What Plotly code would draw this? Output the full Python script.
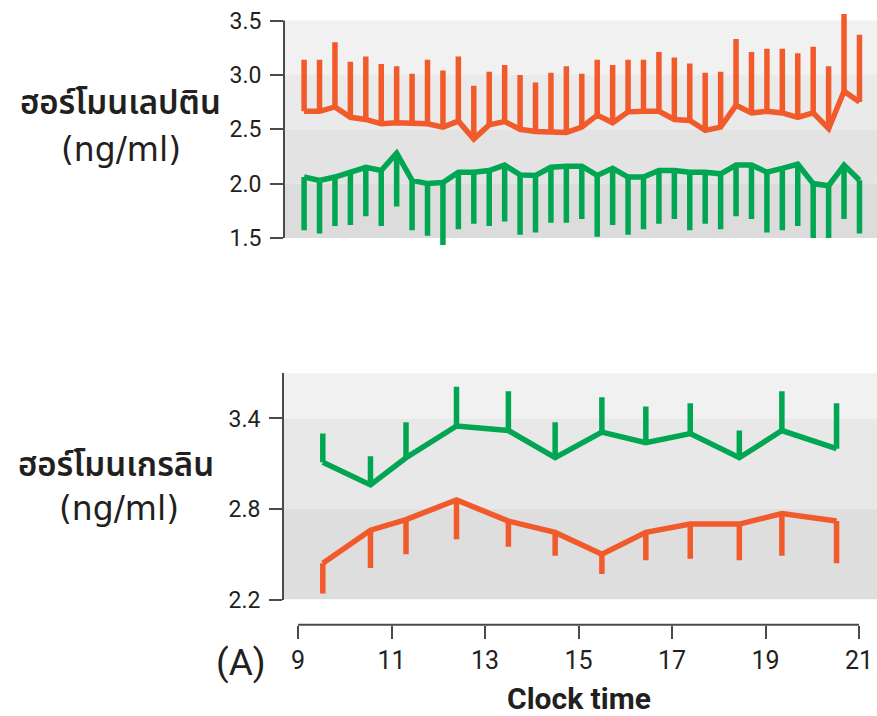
import plotly.graph_objects as go

# ---------------- data ----------------
leptin_time = [9.13, 9.46, 9.79, 10.12, 10.45, 10.78, 11.11, 11.44, 11.77, 12.10,
               12.43, 12.76, 13.09, 13.42, 13.75, 14.08, 14.41, 14.74, 15.07, 15.40,
               15.73, 16.06, 16.39, 16.72, 17.05, 17.38, 17.71, 18.04, 18.37, 18.70,
               19.03, 19.36, 19.69, 20.02, 20.35, 20.68, 21.01]
leptin_orange = [2.665, 2.665, 2.705, 2.61, 2.59, 2.55, 2.56, 2.55, 2.55, 2.52,
                 2.575, 2.41, 2.54, 2.57, 2.50, 2.48, 2.48, 2.47, 2.52, 2.63,
                 2.56, 2.66, 2.665, 2.665, 2.59, 2.58, 2.49, 2.52, 2.72, 2.65,
                 2.665, 2.65, 2.61, 2.65, 2.505, 2.85, 2.75]
leptin_orange_top = [3.14, 3.14, 3.30, 3.12, 3.17, 3.10, 3.08, 3.01, 3.14, 3.04,
                     3.17, 2.90, 3.03, 3.09, 3.00, 2.93, 3.02, 3.08, 3.01, 3.14,
                     3.09, 3.14, 3.14, 3.21, 3.16, 3.105, 3.02, 3.03, 3.33, 3.21,
                     3.24, 3.24, 3.20, 3.26, 3.08, 3.56, 3.37]
leptin_green = [2.06, 2.03, 2.06, 2.105, 2.15, 2.12, 2.28, 2.03, 2.00, 2.01,
                2.105, 2.105, 2.12, 2.17, 2.08, 2.075, 2.15, 2.16, 2.16, 2.075,
                2.14, 2.06, 2.06, 2.12, 2.12, 2.105, 2.105, 2.09, 2.17, 2.17,
                2.105, 2.14, 2.18, 2.00, 1.98, 2.17, 2.03]
leptin_green_bottom = [1.57, 1.54, 1.61, 1.62, 1.70, 1.61, 1.79, 1.57, 1.52, 1.435,
                       1.58, 1.63, 1.61, 1.65, 1.53, 1.55, 1.64, 1.64, 1.675, 1.51,
                       1.62, 1.53, 1.58, 1.63, 1.675, 1.57, 1.63, 1.58, 1.70, 1.675,
                       1.55, 1.57, 1.61, 1.50, 1.50, 1.675, 1.54]

ghrelin_time = [9.53, 10.55, 11.31, 12.39, 13.50, 14.50, 15.50, 16.44, 17.39, 18.44, 19.35, 20.52]
ghrelin_green = [3.11, 2.96, 3.14, 3.35, 3.32, 3.14, 3.31, 3.24, 3.30, 3.14, 3.32, 3.20]
ghrelin_green_top = [3.30, 3.15, 3.375, 3.61, 3.58, 3.375, 3.54, 3.48, 3.50, 3.32, 3.58, 3.50]
ghrelin_orange = [2.44, 2.66, 2.73, 2.86, 2.72, 2.645, 2.50, 2.645, 2.70, 2.70, 2.77, 2.72]
ghrelin_orange_bottom = [2.24, 2.41, 2.50, 2.60, 2.55, 2.49, 2.37, 2.46, 2.47, 2.46, 2.49, 2.44]

x_ticks = [9, 11, 13, 15, 17, 19, 21]
leptin_ticks = [1.5, 2.0, 2.5, 3.0, 3.5]
ghrelin_ticks = [2.2, 2.8, 3.4]

leptin_title = ["ฮอร์โมนเลปติน", "(ng/ml)"]
ghrelin_title = ["ฮอร์โมนเกรลิน", "(ng/ml)"]
panel_label = "(A)"
x_title = "Clock time"

# ---------------- style ----------------
ORANGE = "#F15A2B"
GREEN = "#00A651"
AXIS = "#4a4a4a"
TEXT = "#231f20"
W = 877
REF_H = 716          # reference picture height (positions below are read in it)
H = 732              # page height that ends up photographed into 716 px
LW = 5.5
FONT = "Roboto, 'Noto Sans', sans-serif"
UNIT_FONT = "'DejaVu Sans', 'Open Sans', sans-serif"
THAI_FONT = "'Noto Sans Thai', 'Noto Sans Thai UI', 'Noto Sans', Roboto, sans-serif"


def py(p):
    return 1 - p / REF_H


x_dom = [284 / W, 1.0]
x_range = [8.70, 21.385]
top_dom = [py(248.1), py(7.5)]
top_range = [1.40, 3.62]
bot_dom = [py(597.9), py(372.15)]
bot_range = [2.2, 3.7]
xaxis_pos = py(623)


def up(vals, tops):
    return [t - v for v, t in zip(vals, tops)]


def down(vals, bots):
    return [v - b for v, b in zip(vals, bots)]


fig = go.Figure()


def add_series(x, y, color, plus=None, minus=None, xa="x", ya="y"):
    n = len(x)
    err = dict(type="data", symmetric=False,
               array=plus if plus is not None else [0] * n,
               arrayminus=minus if minus is not None else [0] * n,
               color=color, thickness=LW, width=0, visible=True)
    fig.add_trace(go.Scatter(x=x, y=y, mode="lines", line=dict(color=color, width=LW),
                             error_y=err, xaxis=xa, yaxis=ya, showlegend=False,
                             hoverinfo="skip"))


add_series(leptin_time, leptin_orange, ORANGE, plus=up(leptin_orange, leptin_orange_top))
add_series(leptin_time, leptin_green, GREEN, minus=down(leptin_green, leptin_green_bottom))
add_series(ghrelin_time, ghrelin_green, GREEN, plus=up(ghrelin_green, ghrelin_green_top), xa="x2", ya="y2")
add_series(ghrelin_time, ghrelin_orange, ORANGE, minus=down(ghrelin_orange, ghrelin_orange_bottom), xa="x2", ya="y2")

shapes = []
top_bands = [(3.0, 3.5, "#f1f1f1"), (2.5, 3.0, "#eaeaea"), (2.0, 2.5, "#e3e3e3"), (1.5, 2.0, "#dcdcdc")]
bot_bands = [(3.4, 3.7, "#f1f1f1"), (2.8, 3.4, "#e8e8e8"), (2.2, 2.8, "#dedede")]
for y0, y1, c in top_bands:
    shapes.append(dict(type="rect", xref="x domain", x0=0, x1=1, yref="y", y0=y0, y1=y1,
                       fillcolor=c, line=dict(width=0), layer="below"))
for y0, y1, c in bot_bands:
    shapes.append(dict(type="rect", xref="x2 domain", x0=0, x1=1, yref="y2", y0=y0, y1=y1,
                       fillcolor=c, line=dict(width=0), layer="below"))
# top y axis line (only over the labelled span)
shapes.append(dict(type="line", xref="x domain", x0=0, x1=0, yref="y",
                   y0=leptin_ticks[0], y1=leptin_ticks[-1], line=dict(color=AXIS, width=2)))
# bottom x axis line from first to last tick
shapes.append(dict(type="line", xref="x2", x0=x_ticks[0], x1=x_ticks[-1], yref="paper",
                   y0=xaxis_pos, y1=xaxis_pos, line=dict(color=AXIS, width=2)))

annotations = []


def ann(text, x, y, size, family=FONT, weight=400):
    annotations.append(dict(text=text,
                            x=x / W, y=py(y), xref="paper", yref="paper",
                            xanchor="center", yanchor="middle", showarrow=False,
                            font=dict(size=size, family=family, color=TEXT, weight=weight)))


ann(leptin_title[0], 121, 104, 33, THAI_FONT, 600)
ann(leptin_title[1], 121, 149, 33, UNIT_FONT, 500)
ann(ghrelin_title[0], 116, 465, 33, THAI_FONT, 600)
ann(ghrelin_title[1], 119, 507, 33, UNIT_FONT, 500)
ann(panel_label, 241, 661, 37)
ann(x_title, 579, 697, 30, FONT, 700)

fig.update_layout(
    width=W, height=H, margin=dict(l=0, r=0, t=0, b=0),
    paper_bgcolor="white", plot_bgcolor="white",
    shapes=shapes, annotations=annotations,
    font=dict(family=FONT, color=TEXT),
    xaxis=dict(domain=x_dom, range=x_range, visible=False, anchor="y"),
    yaxis=dict(domain=top_dom, range=top_range, anchor="x",
               tickvals=leptin_ticks, ticktext=["%.1f" % v for v in leptin_ticks],
               ticks="outside", ticklen=13, tickwidth=2, tickcolor=AXIS,
               showline=False, showgrid=False, zeroline=False,
               tickfont=dict(size=23, color=TEXT), ticklabelstandoff=4),
    xaxis2=dict(domain=x_dom, range=x_range, anchor="free", position=xaxis_pos,
                tickvals=x_ticks, ticktext=[str(v) for v in x_ticks],
                ticks="outside", ticklen=13, tickwidth=2, tickcolor=AXIS,
                showline=False, showgrid=False, zeroline=False,
                tickfont=dict(size=25, color=TEXT)),
    yaxis2=dict(domain=bot_dom, range=bot_range, anchor="x2",
                tickvals=ghrelin_ticks, ticktext=["%.1f" % v for v in ghrelin_ticks],
                ticks="outside", ticklen=13, tickwidth=2, tickcolor=AXIS,
                showline=True, linecolor=AXIS, linewidth=2,
                showgrid=False, zeroline=False,
                tickfont=dict(size=23, color=TEXT), ticklabelstandoff=4),
)

fig.write_html("out.html", config={"displayModeBar": False},
               post_script="document.body.style.margin='0';")
